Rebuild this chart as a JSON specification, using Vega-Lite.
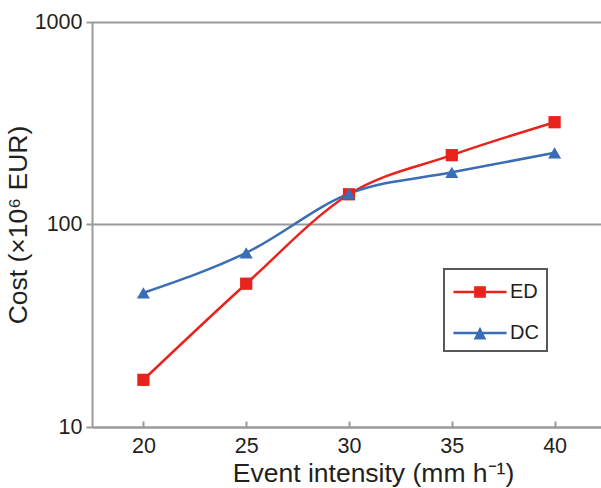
{
  "$schema": "https://vega.github.io/schema/vega-lite/v6.json",
  "width": 514,
  "height": 405,
  "autosize": {"type": "none"},
  "padding": {"left": 92, "top": 22, "right": 0, "bottom": 61},
  "config": {
    "font": "Liberation Sans",
    "view": {"stroke": null},
    "legend": {"strokeWidth": 2},
    "axis": {
      "domainColor": "#9a9a9c",
      "domainWidth": 2,
      "tickColor": "#9a9a9c",
      "tickWidth": 2,
      "gridColor": "#9a9a9c",
      "gridWidth": 2,
      "labelColor": "#231f20",
      "labelFontSize": 21.5,
      "titleColor": "#231f20",
      "titleFontSize": 26.5,
      "titleFontWeight": "normal"
    }
  },
  "data": {
    "values": [
      {"intensity": 20, "series": "ED", "cost": 17.1},
      {"intensity": 25, "series": "ED", "cost": 51},
      {"intensity": 30, "series": "ED", "cost": 141},
      {"intensity": 35, "series": "ED", "cost": 220},
      {"intensity": 40, "series": "ED", "cost": 320},
      {"intensity": 20, "series": "DC", "cost": 46},
      {"intensity": 25, "series": "DC", "cost": 72.5},
      {"intensity": 30, "series": "DC", "cost": 142},
      {"intensity": 35, "series": "DC", "cost": 181},
      {"intensity": 40, "series": "DC", "cost": 226}
    ]
  },
  "encoding": {
    "x": {
      "field": "intensity",
      "type": "quantitative",
      "scale": {"domain": [17.5, 42.5], "nice": false, "zero": false},
      "axis": {
        "values": [20, 25, 30, 35, 40],
        "tickSize": -6,
        "labelPadding": 14,
        "grid": false,
        "title": "Event intensity (mm h⁻¹)",
        "titlePadding": 4,
        "titleX": 281
      }
    },
    "y": {
      "field": "cost",
      "type": "quantitative",
      "scale": {"type": "log", "domain": [10, 1000], "nice": false},
      "axis": {
        "values": [10, 100, 1000],
        "format": "d",
        "tickSize": 6,
        "labelPadding": 4,
        "grid": true,
        "title": "Cost (×10⁶ EUR)",
        "titlePadding": 2
      }
    },
    "color": {
      "field": "series",
      "type": "nominal",
      "scale": {"domain": ["ED", "DC"], "range": ["#e8231b", "#3a6db5"]},
      "legend": {
        "orient": "none",
        "legendX": 352,
        "legendY": 247,
        "title": null,
        "padding": 8,
        "strokeColor": "#58585a",
        "symbolSize": 900,
        "symbolOffset": 13,
        "labelFontSize": 20,
        "labelColor": "#231f20",
        "labelOffset": 15,
        "rowPadding": 16,
        "encode": {
          "symbols": {
            "update": {
              "shape": {"signal": "datum.value === 'ED' ? 'M-1.77,-0.083H1.77V0.083H-1.77Z M-0.39,-0.39H0.39V0.39H-0.39Z' : 'M-1.77,-0.083H1.77V0.083H-1.77Z M0,-0.42L0.42,0.43H-0.42Z'"},
              "fill": {"signal": "datum.value === 'ED' ? '#e8231b' : '#3a6db5'"},
              "stroke": {"value": "transparent"},
              "strokeWidth": {"value": 0},
              "opacity": {"value": 1}
            }
          }
        }
      }
    }
  },
  "layer": [
    {
      "mark": {"type": "line", "interpolate": "monotone", "strokeWidth": 2.5}
    },
    {
      "transform": [{"filter": "datum.series === 'ED'"}],
      "mark": {"type": "point", "filled": true, "opacity": 1, "size": 150, "shape": "square"}
    },
    {
      "transform": [{"filter": "datum.series === 'DC'"}],
      "mark": {"type": "point", "filled": true, "opacity": 1, "size": 170, "shape": "triangle-up"}
    }
  ]
}
